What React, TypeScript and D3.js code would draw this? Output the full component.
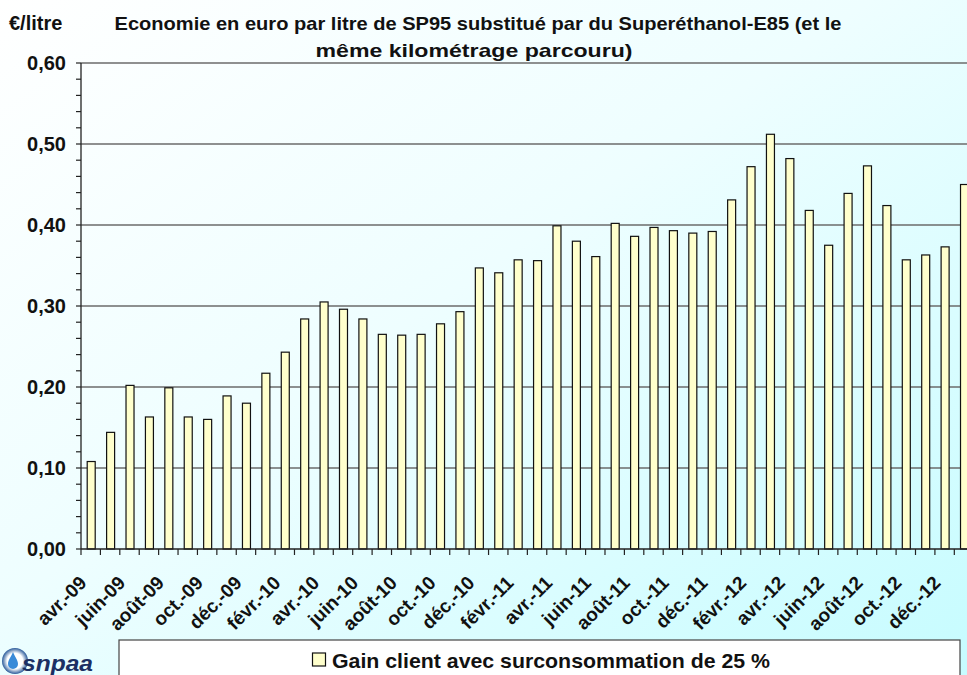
import React from "react";
import * as d3 from "d3";

const months = ["janv.", "févr.", "mars", "avr.", "mai", "juin", "juil.", "août", "sept.", "oct.", "nov.", "déc."];
// categories: avr.-09 .. janv.-13
const categories: string[] = (() => {
  const out: string[] = [];
  let m = 3, y = 9;
  for (let i = 0; i < 46; i++) {
    out.push(`${months[m]}-${String(y).padStart(2, "0")}`);
    m++;
    if (m === 12) { m = 0; y++; }
  }
  return out;
})();

const values = [
  0.108, 0.144, 0.202, 0.163, 0.199, 0.163, 0.160, 0.189, 0.180, 0.217,
  0.243, 0.284, 0.305, 0.296, 0.284, 0.265, 0.264, 0.265, 0.278, 0.293,
  0.347, 0.341, 0.357, 0.356, 0.399, 0.380, 0.361, 0.402, 0.386, 0.397,
  0.393, 0.390, 0.392, 0.431, 0.472, 0.512, 0.482, 0.418, 0.375, 0.439,
  0.473, 0.424, 0.357, 0.363, 0.373, 0.450,
];

const yTicks = [0, 0.1, 0.2, 0.3, 0.4, 0.5, 0.6];
const yMinorTicks = d3.range(0, 0.6001, 0.02);

const titleLines = [
  "Economie en euro par litre de SP95 substitué par du Superéthanol-E85 (et le",
  "même kilométrage parcouru)",
];
const unitLabel = "€/litre";
const legendLabel = "Gain client avec surconsommation de 25 %";

const W = 967, H = 675;
const left = 81, top = 63, bottom = 549;
const step = 19.407;
const right = left + step * categories.length;

export default function App() {
  const x = d3.scaleBand<number>().domain(d3.range(categories.length)).range([left, right]).padding(0);
  const y = d3.scaleLinear().domain([0, 0.6]).range([bottom, top]);
  const fmt = (v: number) => d3.format(".2f")(v).replace(".", ",");
  const barW = 8;
  const font = "'Liberation Sans', Arial, sans-serif";

  return (
    <svg width={W} height={H} style={{ position: "absolute", left: 0, top: 0 }} fontFamily={font}>
      <defs>
        <linearGradient id="bg" x1="0" y1="0" x2="1" y2="1">
          <stop offset="0" stopColor="#ffffff" />
          <stop offset="0.45" stopColor="#eefeff" />
          <stop offset="1" stopColor="#c6fcff" />
        </linearGradient>
        <radialGradient id="logo" cx="0.5" cy="0.5" r="0.5">
          <stop offset="0.6" stopColor="#ffffff" />
          <stop offset="1" stopColor="#2a5a9a" />
        </radialGradient>
      </defs>
      <rect x={0} y={0} width={W} height={H} fill="url(#bg)" />

      {/* gridlines */}
      {yTicks.filter((t) => t > 0).map((t) => (
        <line key={"g" + t} x1={left} x2={right} y1={y(t)} y2={y(t)} stroke="#6b6b6b" strokeWidth={1.5} />
      ))}

      {/* bars */}
      {values.map((v, i) => {
        const cx = (x(i) as number) + x.bandwidth() / 2 + 0.5;
        return (
          <rect key={i} x={cx - barW / 2} y={y(v)} width={barW} height={y(0) - y(v)}
            fill="#ffffcc" stroke="#111" strokeWidth={1.2} />
        );
      })}

      {/* y axis */}
      <line x1={left} x2={left} y1={top} y2={bottom} stroke="#222" strokeWidth={1.3} />
      {yMinorTicks.map((t, i) => (
        <line key={"m" + i} x1={left - 5} x2={left} y1={y(t)} y2={y(t)} stroke="#222" strokeWidth={1.2} />
      ))}
      {yTicks.map((t) => (
        <text key={"yl" + t} x={left - 15} y={y(t)} dy="0.35em" textAnchor="end"
          fontSize={20} fontWeight="bold" fill="#111">{fmt(t)}</text>
      ))}

      {/* x axis */}
      <line x1={left} x2={right} y1={bottom} y2={bottom} stroke="#222" strokeWidth={1.3} />
      {d3.range(categories.length + 1).map((i) => (
        <line key={"xt" + i} x1={left + i * step} x2={left + i * step} y1={bottom} y2={bottom + 6}
          stroke="#222" strokeWidth={1.2} />
      ))}
      {categories.map((c, i) => i % 2 === 0 && (
        <text key={"xl" + i}
          transform={`translate(${(x(i) as number) + x.bandwidth() / 2 - 3},${bottom + 35}) rotate(-45)`}
          textAnchor="end" fontSize={19} fontWeight="bold" fill="#111">{c}</text>
      ))}

      {/* titles */}
      <text x={9} y={30} fontSize={20} fontWeight="bold" fill="#111">{unitLabel}</text>
      <text x={478} y={30} textAnchor="middle" fontSize={19} fontWeight="bold" fill="#111"
        textLength={727} lengthAdjust="spacingAndGlyphs">{titleLines[0]}</text>
      <text x={474} y={57} textAnchor="middle" fontSize={19} fontWeight="bold" fill="#111"
        textLength={317} lengthAdjust="spacingAndGlyphs">{titleLines[1]}</text>

      {/* legend */}
      <rect x={119} y={640} width={841} height={45} fill="#ffffff" stroke="#444" strokeWidth={1.2} />
      <rect x={312.5} y={653} width={13} height={13} fill="#ffffcc" stroke="#111" strokeWidth={1.2} />
      <text x={332} y={668} fontSize={21} fontWeight="bold" fill="#111"
        textLength={438} lengthAdjust="spacingAndGlyphs">{legendLabel}</text>

      {/* logo */}
      <circle cx={15} cy={661} r={13} fill="url(#logo)" />
      <path d="M13,652 C11,657 8,660 8,664 A5,5 0 0 0 18,664 C18,660 15,657 13,652 Z" fill="#3a8ad8" />
      <text x={22} y={671} fontSize={22} fontWeight="bold" fontStyle="italic" fill="#1b2f63"
        textLength={71} lengthAdjust="spacingAndGlyphs">snpaa</text>
    </svg>
  );
}
